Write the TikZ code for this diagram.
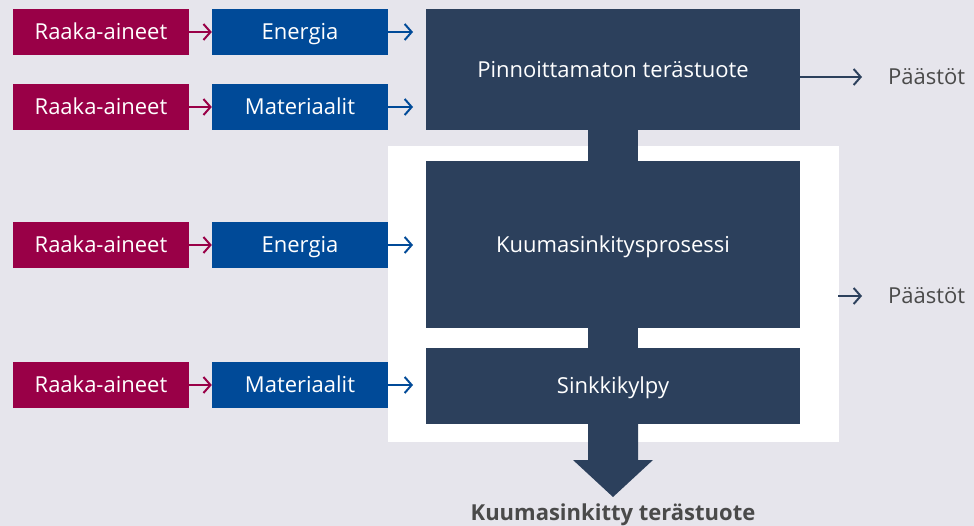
\documentclass[tikz,border=0pt]{standalone}
\usepackage{fontspec}
\setmainfont{Open Sans}
\usetikzlibrary{arrows.meta}
\definecolor{bgc}{HTML}{E6E5EC}
\definecolor{rawc}{HTML}{990047}
\definecolor{inc}{HTML}{004A98}
\definecolor{procc}{HTML}{2C405C}
\definecolor{txtc}{HTML}{4A4A4A}
\tikzset{
  lbl/.style={inner sep=0pt, text height=15.7pt, text depth=0pt, font=\fontsize{22}{26}\selectfont},
  rawbox/.style={lbl, fill=rawc, text=white, minimum width=176pt, minimum height=46pt},
  inbox/.style={lbl, fill=inc, text=white, minimum width=176pt, minimum height=46pt},
  procbox/.style={lbl, fill=procc, text=white, minimum width=374pt},
  rawarrow/.style={draw=rawc, line width=2pt, -{Straight Barb[length=7pt,width=16pt,line width=2pt]}},
  inarrow/.style={draw=inc, line width=2pt, -{Straight Barb[length=7pt,width=16pt,line width=2pt]}},
  outarrow/.style={draw=procc, line width=2pt, -{Straight Barb[length=7pt,width=16pt,line width=2pt]}},
  outlabel/.style={lbl, text=txtc, anchor=west},
}
\begin{document}
\begin{tikzpicture}[x=1pt,y=-1pt]
  % background and white process frame
  \fill[bgc] (0,0) rectangle (974,526);
  \useasboundingbox (0,0) rectangle (974,526);
  \fill[white] (388,146) rectangle (839,442);

  % process blocks
  \node[procbox, minimum height=121pt] (p1) at (613,69.5) {Pinnoittamaton terästuote};
  \node[procbox, minimum height=167pt] (p2) at (613,244.5) {Kuumasinkitysprosessi};
  \node[procbox, minimum height=76pt] (p3) at (613,386) {Sinkkikylpy};

  % links between process blocks
  \fill[procc] (588,130) rectangle (638,161);
  \fill[procc] (588,328) rectangle (638,348);

  % output arrow to the final product
  \fill[procc] (588,424) -- (638,424) -- (638,460) -- (653,460) -- (613,497)
               -- (573,460) -- (588,460) -- cycle;
  \node[lbl, text=txtc, font=\fontsize{22}{26}\selectfont\bfseries] (prod) at (613,513) {Kuumasinkitty terästuote};

  % input rows
  \node[rawbox] (r1) at (101,32) {Raaka-aineet};
  \node[inbox]  (e1) at (300,32) {Energia};
  \node[rawbox] (r2) at (101,107) {Raaka-aineet};
  \node[inbox]  (m1) at (300,107) {Materiaalit};
  \node[rawbox] (r3) at (101,245) {Raaka-aineet};
  \node[inbox]  (e2) at (300,245) {Energia};
  \node[rawbox] (r4) at (101,385) {Raaka-aineet};
  \node[inbox]  (m2) at (300,385) {Materiaalit};

  \draw[rawarrow] (r1) -- (e1);
  \draw[rawarrow] (r2) -- (m1);
  \draw[rawarrow] (r3) -- (e2);
  \draw[rawarrow] (r4) -- (m2);

  \coordinate (a1) at (413,32);
  \coordinate (a2) at (413,107);
  \coordinate (a3) at (413,245);
  \coordinate (a4) at (413,385);
  \draw[inarrow] (e1.east) -- (a1);
  \draw[inarrow] (m1.east) -- (a2);
  \draw[inarrow] (e2.east) -- (a3);
  \draw[inarrow] (m2.east) -- (a4);

  % emissions
  \node[outlabel] (o1) at (888,77) {Päästöt};
  \node[outlabel] (o2) at (888,296) {Päästöt};
  \coordinate (s2) at (838,296);
  \draw[outarrow] (p1.east |- o1.west) -- ([xshift=-26pt]o1.west);
  \draw[outarrow] (s2) -- ([xshift=-26pt]o2.west);
\end{tikzpicture}
\end{document}
